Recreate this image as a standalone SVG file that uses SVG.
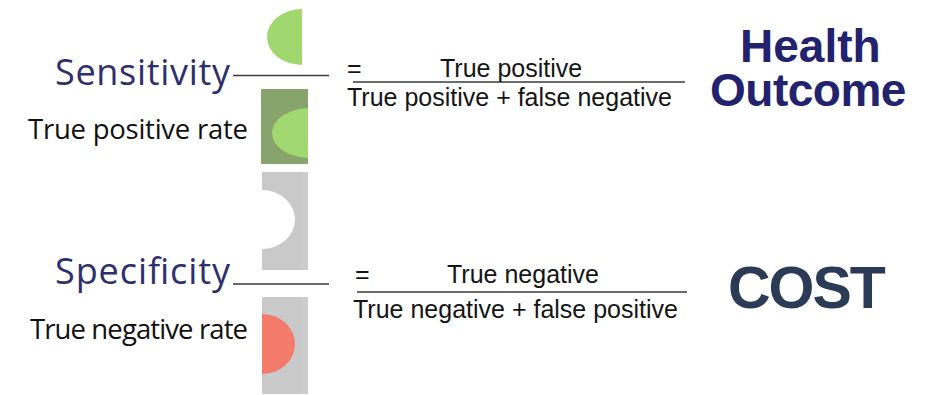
<svg xmlns="http://www.w3.org/2000/svg" width="935" height="395" viewBox="0 0 935 395">
  <style>
    .term { font-family: "Open Sans", "Noto Sans", sans-serif; font-size: 36px; fill: #2e2f6e; }
    .rate { font-family: "Open Sans", "Noto Sans", sans-serif; font-size: 27.5px; fill: #111111; }
    .frac { font-family: "Liberation Sans", Arial, sans-serif; font-size: 25px; fill: #151515; }
    .rule { stroke: #3a3a3a; stroke-width: 1.5; fill: none; }
    .big { font-family: "Liberation Sans", Arial, sans-serif; font-weight: bold; }
  </style>
  <defs>
    <clipPath id="clipTP">
      <rect x="261" y="89" width="47" height="75"/>
    </clipPath>
  </defs>

  <rect width="935" height="395" fill="#ffffff"/>

  <!-- Sensitivity block -->
  <g id="sensitivity">
    <text class="term" x="55" y="85" textLength="175" lengthAdjust="spacing">Sensitivity</text>
    <text class="rate" x="28" y="139" textLength="220" lengthAdjust="spacing">True positive rate</text>
  </g>

  <!-- Numerator icon: true positive -->
  <g id="icon-true-positive">
    <path d="M302,9 A35,28 0 0 0 302,65 Z" fill="#a0d76f"/>
  </g>

  <!-- Denominator icon: positives -->
  <g id="icon-all-positive">
    <rect x="261" y="89" width="47" height="75" fill="#88a36b"/>
    <ellipse cx="310" cy="133" rx="38" ry="25" fill="#a2d871" clip-path="url(#clipTP)"/>
  </g>

  <!-- Specificity block -->
  <g id="specificity">
    <text class="term" x="55" y="284" textLength="175" lengthAdjust="spacing">Specificity</text>
    <text class="rate" x="30" y="339" textLength="218" lengthAdjust="spacing">True negative rate</text>
  </g>

  <!-- Numerator icon: true negative -->
  <g id="icon-true-negative">
    <rect x="262" y="172" width="46" height="98" fill="#c9c9c9"/>
    <rect x="301" y="172" width="7" height="98" fill="#cccccc"/>
    <path d="M262,190 A33,29.5 0 0 1 262,249 Z" fill="#ffffff"/>
  </g>

  <!-- Denominator icon: negatives -->
  <g id="icon-all-negative">
    <rect x="262" y="297" width="46" height="97" fill="#c9c9c9"/>
    <rect x="301" y="297" width="7" height="97" fill="#cccccc"/>
    <path d="M262,314 A33,30 0 0 1 262,374 Z" fill="#f47a6c"/>
  </g>

  <!-- Fraction bars -->
  <g id="connectors">
    <line class="rule" x1="233" y1="75.5" x2="329" y2="75.5"/>
    <line class="rule" x1="233" y1="284" x2="329" y2="284"/>
    <line class="rule" x1="353" y1="82" x2="685" y2="82"/>
    <line class="rule" x1="357" y1="292" x2="687" y2="292"/>
  </g>

  <!-- Sensitivity formula -->
  <g id="formula-sensitivity">
    <text class="frac" x="347" y="77">=</text>
    <text class="frac" x="440" y="77">True positive</text>
    <text class="frac" x="347" y="106">True positive + false negative</text>
  </g>

  <!-- Specificity formula -->
  <g id="formula-specificity">
    <text class="frac" x="355" y="283">=</text>
    <text class="frac" x="447" y="283">True negative</text>
    <text class="frac" x="353" y="318">True negative + false positive</text>
  </g>

  <!-- Outcome labels -->
  <g id="health-outcome">
    <text class="big" x="740" y="62" font-size="46" fill="#23226e">Health</text>
    <text class="big" x="710" y="106" font-size="46" letter-spacing="-0.5" fill="#23226e">Outcome</text>
  </g>

  <g id="cost">
    <text class="big" x="728" y="308" font-size="59" letter-spacing="-2" fill="#2b3a55">COST</text>
  </g>
</svg>
